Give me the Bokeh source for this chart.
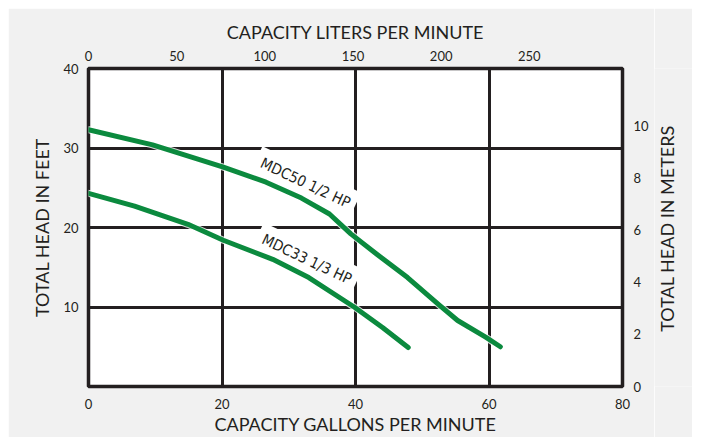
import math
from bokeh.plotting import figure
from bokeh.layouts import row
from bokeh.models import LinearAxis, Range1d, FixedTicker
from bokeh.core.properties import value
from bokeh.embed import file_html
from bokeh.resources import INLINE

# ---- data ----
mdc50_gpm = [0, 9.6, 20.2, 26.6, 31.9, 36.1, 39.3, 43.1, 47.8, 52.6, 55.3, 59.5, 61.7]
mdc50_ft = [32.3, 30.4, 27.6, 25.7, 23.7, 21.7, 19.2, 16.7, 13.7, 10.2, 8.3, 6.2, 5.0]
mdc33_gpm = [0, 6.9, 14.9, 20.2, 27.6, 33.0, 39.8, 44.1, 47.9]
mdc33_ft = [24.3, 22.7, 20.4, 18.4, 16.0, 13.7, 10.0, 7.4, 4.9]

labels = ["MDC50 1/2 HP", "MDC33 1/3 HP"]
label_gpm = [32.5, 32.7]
label_ft = [25.6, 16.0]

gpm_ticks = [0, 20, 40, 60, 80]
ft_ticks = [10, 20, 30, 40]
lpm_ticks = [0, 50, 100, 150, 200, 250]
m_ticks = [0, 2, 4, 6, 8, 10]
right_title = ["TOTAL HEAD IN METERS"]

GAL_TO_L = 3.78541
FT_TO_M = 0.3048

INK = "#231f20"
GREEN = "#0b8a3e"
BG = "#f1f1f1"
FONT = "Lato"

p = figure(width=646, height=429, x_range=Range1d(0, 80), y_range=Range1d(0, 40),
           output_backend="svg", toolbar_location=None,
           min_border_left=80, min_border_right=32, min_border_top=60, min_border_bottom=49,
           x_axis_location=None, y_axis_location=None)
p.margin = (8, 0, 0, 8)
p.border_fill_color = BG
p.background_fill_color = "white"
p.outline_line_color = INK
p.outline_line_width = 3.5

p.extra_x_ranges = {"lpm": Range1d(0, 80 * GAL_TO_L)}
p.extra_y_ranges = {"m": Range1d(0, 40 * FT_TO_M)}

def style(ax, title):
    ax.axis_label = title
    ax.axis_line_color = None
    ax.major_tick_line_color = None
    ax.minor_tick_line_color = None
    ax.major_label_text_font = FONT
    ax.major_label_text_font_size = "13px"
    ax.major_label_text_color = INK
    ax.axis_label_text_font = FONT
    ax.axis_label_text_font_size = "18px"
    ax.axis_label_text_font_style = "normal"
    ax.axis_label_text_color = INK

bottom = LinearAxis(ticker=FixedTicker(ticks=gpm_ticks))
style(bottom, "CAPACITY GALLONS PER MINUTE")
bottom.major_label_standoff = 6
bottom.axis_label_standoff = 1
p.add_layout(bottom, "below")

top = LinearAxis(x_range_name="lpm", ticker=FixedTicker(ticks=lpm_ticks))
style(top, "CAPACITY LITERS PER MINUTE")
top.major_label_standoff = 2
top.axis_label_standoff = 5
p.add_layout(top, "above")

left = LinearAxis(ticker=FixedTicker(ticks=ft_ticks))
style(left, "TOTAL HEAD IN FEET")
left.major_label_standoff = 4
left.axis_label_standoff = 7
p.add_layout(left, "left")

right = LinearAxis(y_range_name="m", ticker=FixedTicker(ticks=m_ticks))
style(right, None)
right.major_label_standoff = 5
p.add_layout(right, "right")

p.xgrid.ticker = FixedTicker(ticks=[20, 40, 60])
p.ygrid.ticker = FixedTicker(ticks=[10, 20, 30])
for g in (p.xgrid, p.ygrid):
    g.grid_line_color = INK
    g.grid_line_width = 3
    g.grid_line_alpha = 1.0

# curve labels with white halo that interrupts the grid
p.text(x=label_gpm, y=label_ft, text=labels, angle=-0.44,
       text_align="center", text_baseline="middle",
       text_font=value("DejaVu Sans Condensed"), text_font_size="15px",
       text_color=INK, background_fill_color="white", padding=6)

for xs, ys in ((mdc50_gpm, mdc50_ft), (mdc33_gpm, mdc33_ft)):
    p.line(xs, ys, line_color="white", line_width=7, line_cap="round", line_join="round", line_alpha=0.8)
    p.line(xs, ys, line_color=GREEN, line_width=5, line_cap="round", line_join="round")

# narrow strip holding the right-hand axis title (reads bottom to top)
t = figure(width=38, height=429, x_range=Range1d(0, 1), y_range=Range1d(0, 1),
           output_backend="svg", toolbar_location=None,
           min_border_left=0, min_border_right=0, min_border_top=0, min_border_bottom=0,
           x_axis_location=None, y_axis_location=None)
t.margin = (8, 0, 0, 0)
t.border_fill_color = BG
t.background_fill_color = BG
t.outline_line_color = None
t.grid.visible = False
t.text(x=[0.34], y=[0.497], text=right_title, angle=math.pi / 2,
       text_align="center", text_baseline="middle",
       text_font=value(FONT), text_font_size="18px", text_color=INK)

layout = row(p, t, spacing=0)
open("out.html", "w").write(file_html(layout, INLINE))
